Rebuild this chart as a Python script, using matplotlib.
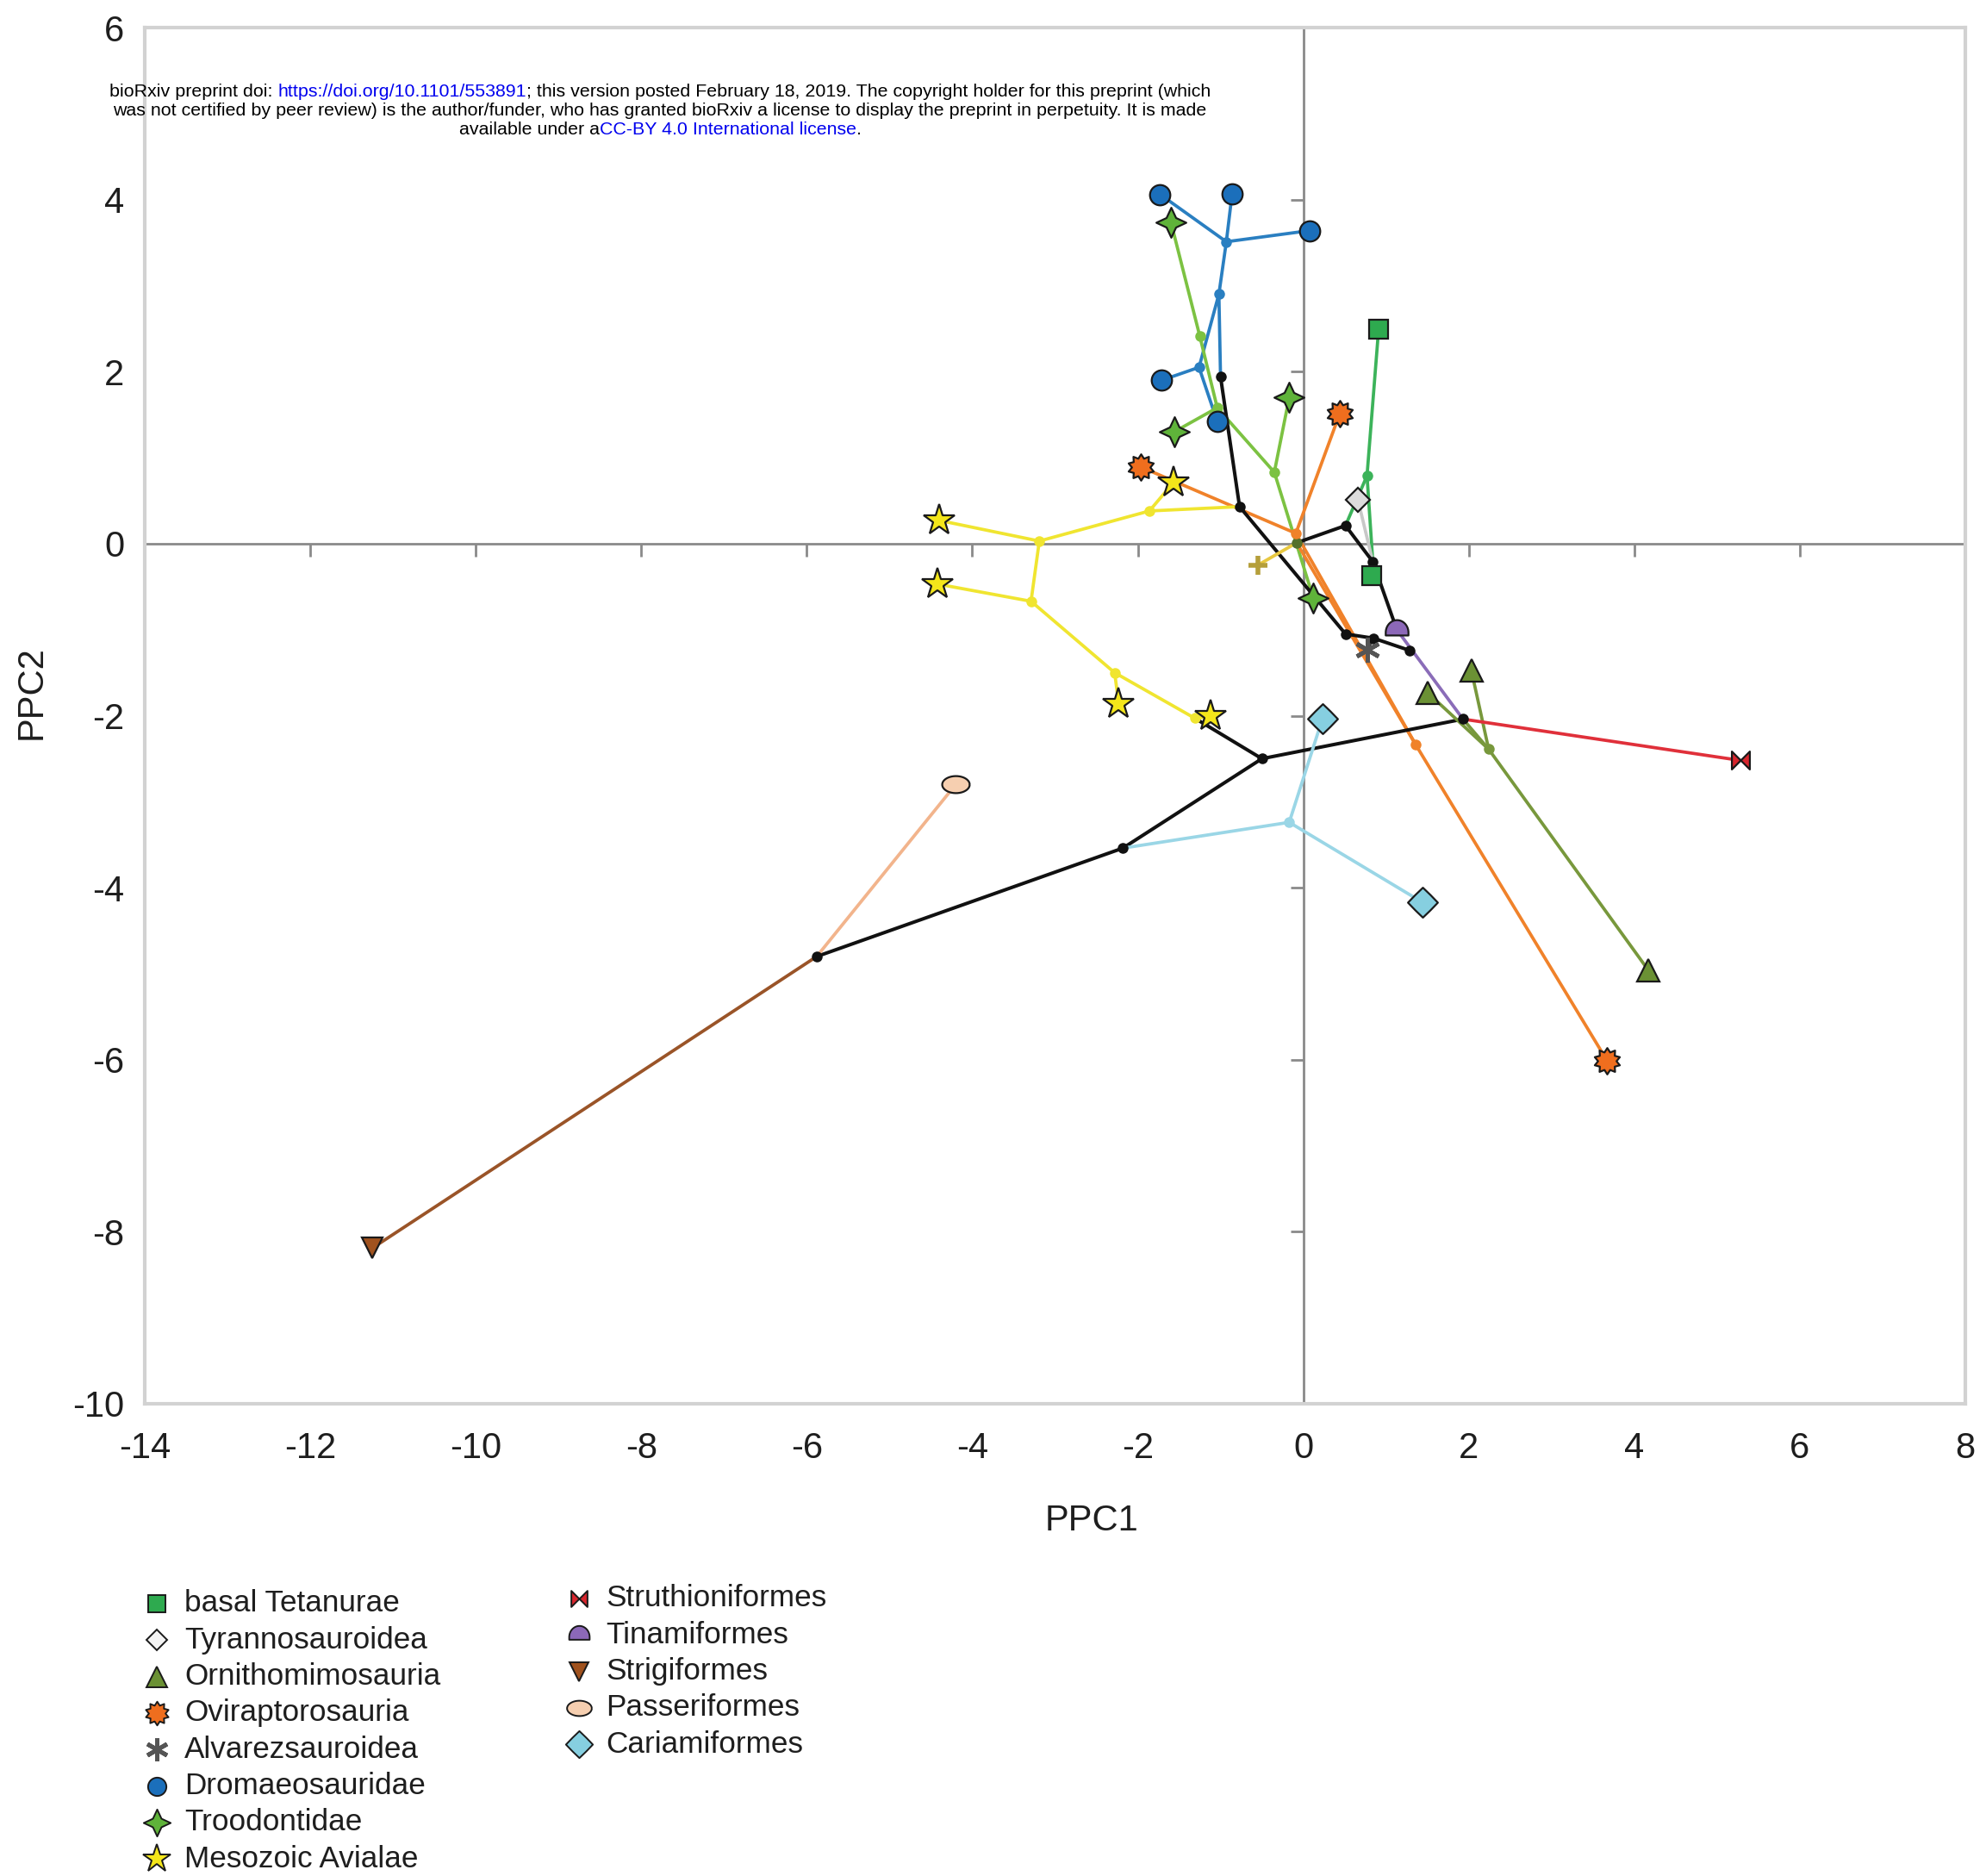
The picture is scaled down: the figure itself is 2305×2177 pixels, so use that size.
import numpy as np
import matplotlib
matplotlib.use('Agg')
import matplotlib.pyplot as plt
from matplotlib.path import Path

plt.rcParams['font.family'] = ['Liberation Sans', 'DejaVu Sans']
plt.rcParams['axes.unicode_minus'] = False

# ---------------------------------------------
# phylomorphospace data (PPC1, PPC2)
# ---------------------------------------------

# terminal taxa
tip_id = ['bt1', 'bt2', 'ty1', 'or1', 'or2', 'or3', 'ov1', 'ov2', 'ov3', 'al1',
          'dr1', 'dr2', 'dr3', 'dr4', 'dr5', 'tr1', 'tr2', 'tr3', 'tr4',
          'av1', 'av2', 'av3', 'av4', 'av5', 'st1', 'ti1', 'sg1', 'pa1',
          'ca1', 'ca2', 'x1']
tip_clade = ['basal Tetanurae', 'basal Tetanurae', 'Tyrannosauroidea',
             'Ornithomimosauria', 'Ornithomimosauria', 'Ornithomimosauria',
             'Oviraptorosauria', 'Oviraptorosauria', 'Oviraptorosauria',
             'Alvarezsauroidea',
             'Dromaeosauridae', 'Dromaeosauridae', 'Dromaeosauridae',
             'Dromaeosauridae', 'Dromaeosauridae',
             'Troodontidae', 'Troodontidae', 'Troodontidae', 'Troodontidae',
             'Mesozoic Avialae', 'Mesozoic Avialae', 'Mesozoic Avialae',
             'Mesozoic Avialae', 'Mesozoic Avialae',
             'Struthioniformes', 'Tinamiformes', 'Strigiformes', 'Passeriformes',
             'Cariamiformes', 'Cariamiformes', 'other']
tip_x = [0.91, 0.83, 0.66, 1.50, 2.03, 4.17, -1.96, 0.44, 3.67, 0.77,
         -1.73, -0.86, 0.08, -1.71, -1.04, -1.60, -0.17, -1.56, 0.12,
         -4.40, -4.42, -1.57, -2.23, -1.12, 5.28, 1.13, -11.25, -4.20,
         0.23, 1.44, -0.55]
tip_y = [2.49, -0.37, 0.51, -1.73, -1.47, -4.96, 0.89, 1.51, -6.01, -1.23,
         4.06, 4.07, 3.64, 1.90, 1.42, 3.74, 1.70, 1.30, -0.63,
         0.27, -0.47, 0.71, -1.86, -2.01, -2.52, -1.00, -8.19, -2.80,
         -2.04, -4.17, -0.25]

# reconstructed ancestral nodes
node_id = ['root', 'ov_a', 'ov_b', 'bt_a', 'k_a', 'k_b', 'k_para', 'k_av',
           'k_c', 'k_d', 'k_e', 'k_pal', 'k_neo', 'k_nb', 'k_nc', 'or_a',
           'dr_a', 'dr_b', 'dr_c', 'tr_a', 'tr_b', 'tr_c',
           'av_a', 'av_b', 'av_c', 'av_d', 'av_e', 'ca_a']
node_clade = ['root', 'Oviraptorosauria', 'Oviraptorosauria', 'basal Tetanurae',
              'backbone', 'backbone', 'backbone', 'backbone', 'backbone',
              'backbone', 'backbone', 'backbone', 'backbone', 'backbone',
              'backbone', 'Ornithomimosauria',
              'Dromaeosauridae', 'Dromaeosauridae', 'Dromaeosauridae',
              'Troodontidae', 'Troodontidae', 'Troodontidae',
              'Mesozoic Avialae', 'Mesozoic Avialae', 'Mesozoic Avialae',
              'Mesozoic Avialae', 'Mesozoic Avialae', 'Cariamiformes']
node_x = [-0.08, -0.09, 1.36, 0.77, 0.51, 0.84, -1.00, -0.77,
          0.51, 0.85, 1.28, 1.93, -0.50, -2.18, -5.88, 2.24,
          -0.93, -1.02, -1.26, -1.25, -1.04, -0.35,
          -1.86, -3.19, -3.29, -2.28, -1.31, -0.17]
node_y = [0.01, 0.12, -2.34, 0.79, 0.21, -0.21, 1.94, 0.43,
          -1.05, -1.10, -1.24, -2.04, -2.50, -3.54, -4.80, -2.39,
          3.51, 2.90, 2.05, 2.41, 1.58, 0.83,
          0.38, 0.03, -0.67, -1.50, -2.03, -3.24]

# branches: (from, to, colour group)
edges = [
    ('dr_a', 'dr1', 'Dromaeosauridae'), ('dr_a', 'dr2', 'Dromaeosauridae'),
    ('dr_a', 'dr3', 'Dromaeosauridae'), ('dr_b', 'dr_a', 'Dromaeosauridae'),
    ('dr_b', 'dr_c', 'Dromaeosauridae'), ('dr_c', 'dr4', 'Dromaeosauridae'),
    ('dr_c', 'dr5', 'Dromaeosauridae'), ('k_para', 'dr_b', 'Dromaeosauridae'),
    ('tr1', 'tr_a', 'Troodontidae'), ('tr_a', 'tr_b', 'Troodontidae'),
    ('tr_b', 'tr3', 'Troodontidae'), ('tr_b', 'tr_c', 'Troodontidae'),
    ('tr_c', 'tr2', 'Troodontidae'), ('tr_c', 'tr4', 'Troodontidae'),
    ('ov1', 'ov_a', 'Oviraptorosauria'), ('ov_a', 'ov2', 'Oviraptorosauria'),
    ('ov_a', 'ov_b', 'Oviraptorosauria'), ('root', 'ov_b', 'Oviraptorosauria'),
    ('ov_b', 'ov3', 'Oviraptorosauria'),
    ('k_a', 'bt_a', 'basal Tetanurae'), ('bt_a', 'bt1', 'basal Tetanurae'),
    ('bt_a', 'k_b', 'basal Tetanurae'),
    ('ty1', 'k_b', 'Tyrannosauroidea'),
    ('root', 'k_a', 'backbone'), ('k_a', 'k_b', 'backbone'),
    ('k_b', 'ti1', 'backbone'), ('k_para', 'k_av', 'backbone'),
    ('k_av', 'k_c', 'backbone'), ('k_c', 'k_d', 'backbone'),
    ('k_d', 'k_e', 'backbone'), ('k_neo', 'k_pal', 'backbone'),
    ('k_neo', 'av_e', 'backbone'), ('k_neo', 'k_nb', 'backbone'),
    ('k_nb', 'k_nc', 'backbone'),
    ('k_d', 'al1', 'Alvarezsauroidea'),
    ('ti1', 'k_pal', 'Tinamiformes'),
    ('or1', 'or_a', 'Ornithomimosauria'), ('or2', 'or_a', 'Ornithomimosauria'),
    ('or_a', 'or3', 'Ornithomimosauria'), ('k_pal', 'or_a', 'Ornithomimosauria'),
    ('k_pal', 'st1', 'Struthioniformes'),
    ('av1', 'av_b', 'Mesozoic Avialae'), ('av_b', 'av_a', 'Mesozoic Avialae'),
    ('av_a', 'av3', 'Mesozoic Avialae'), ('av_a', 'k_av', 'Mesozoic Avialae'),
    ('av_b', 'av_c', 'Mesozoic Avialae'), ('av_c', 'av2', 'Mesozoic Avialae'),
    ('av_c', 'av_d', 'Mesozoic Avialae'), ('av_d', 'av4', 'Mesozoic Avialae'),
    ('av_d', 'av_e', 'Mesozoic Avialae'), ('av_e', 'av5', 'Mesozoic Avialae'),
    ('k_nb', 'ca_a', 'Cariamiformes'), ('ca_a', 'ca1', 'Cariamiformes'),
    ('ca_a', 'ca2', 'Cariamiformes'),
    ('k_nc', 'sg1', 'Strigiformes'), ('k_nc', 'pa1', 'Passeriformes'),
    ('root', 'x1', 'other'),
]

legend_left = ['basal Tetanurae', 'Tyrannosauroidea', 'Ornithomimosauria',
               'Oviraptorosauria', 'Alvarezsauroidea', 'Dromaeosauridae',
               'Troodontidae', 'Mesozoic Avialae']
legend_right = ['Struthioniformes', 'Tinamiformes', 'Strigiformes',
                'Passeriformes', 'Cariamiformes']

x_ticks = list(range(-14, 9, 2))
y_ticks = list(range(-10, 7, 2))

# ---------------------------------------------
# marker shapes and colours
# ---------------------------------------------
bowtie = Path([(-1, -1), (-1, 1), (1, -1), (1, 1), (-1, -1)],
              [Path.MOVETO, Path.LINETO, Path.LINETO, Path.LINETO, Path.CLOSEPOLY])
t = np.linspace(0, np.pi, 30)
dome = Path(list(zip(np.cos(t), np.sin(t) * 1.1 - 0.2)) + [(-1, -0.45), (1, -0.45), (1, -0.2)])
t = np.linspace(0, 2 * np.pi, 40)
oval = Path(list(zip(np.cos(t), 0.62 * np.sin(t))))
sun = Path.unit_regular_star(10, 0.7)
four_star = Path.unit_regular_star(4, 0.45)
four_round = Path.unit_regular_star(4, 0.72)

style = {
    'basal Tetanurae':   dict(marker='s', ms=16, mfc='#2eaa4f'),
    'Tyrannosauroidea':  dict(marker='D', ms=14, mfc='#dcdcdc'),
    'Ornithomimosauria': dict(marker='^', ms=19, mfc='#6b9134'),
    'Oviraptorosauria':  dict(marker=sun, ms=22, mfc='#ef6e1e'),
    'Alvarezsauroidea':  dict(marker=(6, 2, 0), ms=21, mfc='#555555', mec='#555555', mew=3.5),
    'Dromaeosauridae':   dict(marker='o', ms=17, mfc='#1b6fbb'),
    'Troodontidae':      dict(marker=four_star, ms=25, mfc='#5fb33a'),
    'Mesozoic Avialae':  dict(marker='*', ms=27, mfc='#f4e61a'),
    'Struthioniformes':  dict(marker=bowtie, ms=15, mfc='#d7262e'),
    'Tinamiformes':      dict(marker=dome, ms=19, mfc='#8c68b8'),
    'Strigiformes':      dict(marker='v', ms=17, mfc='#a0521e'),
    'Passeriformes':     dict(marker=oval, ms=23, mfc='#f6cfb0'),
    'Cariamiformes':     dict(marker=four_round, ms=25, mfc='#86cfe0'),
    'other':             dict(marker='+', ms=16, mfc='#b59f3b', mec='#b59f3b', mew=4),
}
line_col = {
    'Dromaeosauridae': '#2a7fc1', 'Troodontidae': '#7cc242',
    'Oviraptorosauria': '#f0822a', 'basal Tetanurae': '#3cb35a',
    'Tyrannosauroidea': '#c8c8c8', 'backbone': '#111111',
    'Alvarezsauroidea': '#444444', 'Tinamiformes': '#8a6cb8',
    'Ornithomimosauria': '#78983c', 'Struthioniformes': '#e0303a',
    'Mesozoic Avialae': '#f0e530', 'Cariamiformes': '#9ad6e6',
    'Strigiformes': '#9a5428', 'Passeriformes': '#f2b48c',
    'other': '#e8c840', 'root': '#55702a',
}

# ---------------------------------------------
# figure
# ---------------------------------------------
W, H = 2305, 2177
fig = plt.figure(figsize=(W / 100, H / 100), dpi=100)
ax = fig.add_axes([168 / W, 1 - 1629 / H, (2281 - 168) / W, (1629 - 32) / H])
ax.set_xlim(-14, 8)
ax.set_ylim(-10, 6)
ax.set_xticks(x_ticks)
ax.set_yticks(y_ticks)
ax.tick_params(length=0, labelsize=30, labelcolor='#1e1e1e')
ax.tick_params(axis='x', pad=23)
ax.tick_params(axis='y', pad=17)
for sp in ax.spines.values():
    sp.set_color('#d2d2d2')
    sp.set_linewidth(3)

# zero lines with their own tick marks
ax.axhline(0, color='#8a8a8a', lw=2, zorder=1)
ax.axvline(0, color='#8a8a8a', lw=2, zorder=1)
ax.plot(x_ticks, [0] * len(x_ticks), ls='none', marker=3, ms=11, mew=2,
        color='#8a8a8a', zorder=1)
ax.plot([0] * len(y_ticks), y_ticks, ls='none', marker=0, ms=11, mew=2,
        color='#8a8a8a', zorder=1)

pos = {}
for i, n in enumerate(tip_id):
    pos[n] = (tip_x[i], tip_y[i])
for i, n in enumerate(node_id):
    pos[n] = (node_x[i], node_y[i])

for a, b, grp in edges:
    xa, ya = pos[a]
    xb, yb = pos[b]
    lw = 2.9 if grp == 'backbone' else 2.7
    ax.plot([xa, xb], [ya, yb], color=line_col[grp], lw=lw,
            solid_capstyle='round', zorder=2)

for i in range(len(node_id)):
    ax.plot(node_x[i], node_y[i], 'o', ms=9, color=line_col[node_clade[i]],
            mec='none', zorder=3)

for clade in style:
    xs = [tip_x[i] for i in range(len(tip_id)) if tip_clade[i] == clade]
    ys = [tip_y[i] for i in range(len(tip_id)) if tip_clade[i] == clade]
    kw = dict(mec='#1a1a1a', mew=1.6)
    kw.update(style[clade])
    ax.plot(xs, ys, ls='none', zorder=5, **kw)

ax.set_xlabel('PPC1', fontsize=30, color='#1e1e1e')
ax.set_ylabel('PPC2', fontsize=30, color='#1e1e1e', va='center')
ax.xaxis.set_label_coords((1267 - 168) / 2113, (1629 - 1745) / 1597)
ax.yaxis.set_label_coords((37 - 168) / 2113, (1629 - 804) / 1597)

# ---------------------------------------------
# legend (two columns below the plot)
# ---------------------------------------------
lax = fig.add_axes([0, 0, 1, 1])
lax.set_xlim(0, W)
lax.set_ylim(H, 0)
lax.axis('off')
lax.patch.set_alpha(0)


def legend_column(names, x_mark, x_text, y0, step=42.3):
    for i, name in enumerate(names):
        y = y0 + i * step
        kw = dict(mec='#1a1a1a', mew=1.4)
        kw.update(style[name])
        kw['ms'] = kw['ms'] * 0.9
        if name == 'Tyrannosauroidea':
            kw['mfc'] = '#f4f4f4'
        lax.plot(x_mark, y, ls='none', **kw)
        lax.text(x_text, y, name, fontsize=25.3, color='#1e1e1e',
                 ha='left', va='center')


legend_column(legend_left, 182, 214, 1861)
legend_column(legend_right, 672, 703, 1855)

# ---------------------------------------------
# preprint notice at the top
# ---------------------------------------------
header = [
    [('bioRxiv preprint doi: ', 'black'),
     ('https://doi.org/10.1101/553891', '#0000ee'),
     ('; this version posted February 18, 2019. The copyright holder for this preprint (which', 'black')],
    [('was not certified by peer review) is the author/funder, who has granted bioRxiv a license '
      'to display the preprint in perpetuity. It is made', 'black')],
    [('available under a', 'black'),
     ('CC-BY 4.0 International license', '#0000ee'),
     ('.', 'black')],
]
header_y = [107, 129, 150]
renderer = fig.canvas.get_renderer()
for parts, yp in zip(header, header_y):
    texts = [fig.text(0, 1 - yp / H, s, color=c, fontsize=15.4, ha='left',
                      va='center') for s, c in parts]
    widths = [tx.get_window_extent(renderer).width for tx in texts]
    x = 766 - sum(widths) / 2
    for tx, w in zip(texts, widths):
        tx.set_x(x / W)
        x += w

fig.savefig('out.png', dpi=100)
